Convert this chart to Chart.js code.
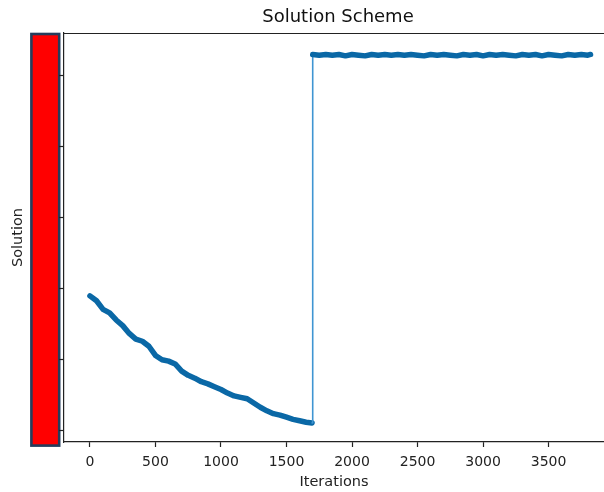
<!DOCTYPE html>
<html>
<head>
<meta charset="utf-8">
<script src="https://cdn.jsdelivr.net/npm/chart.js@4/dist/chart.umd.min.js"></script>
<style>
    body { margin: 0; background: #fff; }
    #wrap { width: 604px; height: 492px; position: relative; }
</style>
</head>
<body>
<div id="wrap"><canvas id="schemeChart"></canvas></div>
<script>
// iterations and solution values
const descIterations = [0, 50, 100, 150, 200, 250, 300, 350, 400, 450, 500, 550, 600, 650, 700, 750, 800, 850,
    900, 950, 1000, 1050, 1100, 1150, 1200, 1250, 1300, 1350, 1400, 1450, 1500, 1550, 1600, 1650, 1695];
const descValues = [1.89, 1.82, 1.70, 1.65, 1.55, 1.47, 1.36, 1.28, 1.25, 1.18, 1.05, 0.99, 0.97, 0.93, 0.83, 0.77, 0.73, 0.68,
    0.65, 0.61, 0.57, 0.52, 0.48, 0.46, 0.44, 0.38, 0.32, 0.27, 0.23, 0.21, 0.18, 0.15, 0.13, 0.11, 0.10];

const flatIterations = [1700, 1750, 1800, 1850, 1900, 1950, 2000, 2050, 2100, 2150, 2200, 2250, 2300, 2350, 2400,
    2450, 2500, 2550, 2600, 2650, 2700, 2750, 2800, 2850, 2900, 2950, 3000, 3050, 3100, 3150, 3200, 3250, 3300,
    3350, 3400, 3450, 3500, 3550, 3600, 3650, 3700, 3750, 3800, 3820];
const flatValues = [5.29, 5.28, 5.29, 5.28, 5.29, 5.27, 5.29, 5.28, 5.27, 5.29, 5.28, 5.29, 5.28, 5.29, 5.28,
    5.29, 5.28, 5.27, 5.29, 5.28, 5.29, 5.28, 5.27, 5.29, 5.28, 5.29, 5.27, 5.29, 5.28, 5.29, 5.28, 5.27, 5.29,
    5.28, 5.29, 5.27, 5.29, 5.28, 5.27, 5.29, 5.28, 5.29, 5.28, 5.29];

const xTickValues = [0, 500, 1000, 1500, 2000, 2500, 3000, 3500];
const yTickValues = [0, 1, 2, 3, 4, 5];

const points = descIterations.map((it, i) => ({ x: it, y: descValues[i] }))
    .concat(flatIterations.map((it, i) => ({ x: it, y: flatValues[i] })));

const lineColor = '#0a68a6';
const jumpColor = '#3f95d2';
const titleText = 'Solution Scheme';

// red side bar, top spine and title, drawn around the chart area
const framePlugin = {
    id: 'frame',
    beforeDraw(chart) {
        const { ctx, chartArea } = chart;
        const left = chartArea.left - 32.6;
        const top = chartArea.top + 1;
        const w = 27.8;
        const h = chartArea.bottom + 3.6 - top;
        ctx.save();
        ctx.fillStyle = '#ff0000';
        ctx.fillRect(left, top, w, h);
        ctx.lineWidth = 2.6;
        ctx.strokeStyle = '#243d5c';
        ctx.strokeRect(left, top, w, h);
        ctx.restore();
    },
    afterDraw(chart) {
        const { ctx, chartArea } = chart;
        ctx.save();
        ctx.strokeStyle = '#222';
        ctx.lineWidth = 1.2;
        ctx.beginPath();
        ctx.moveTo(chartArea.left, chartArea.top + 0.5);
        ctx.lineTo(chartArea.right, chartArea.top + 0.5);
        ctx.stroke();

        ctx.fillStyle = '#111';
        ctx.font = "18px 'DejaVu Sans', sans-serif";
        ctx.textAlign = 'center';
        ctx.textBaseline = 'middle';
        ctx.fillText(titleText, (chartArea.left + chartArea.right) / 2 + 4, chartArea.top - 16);
        ctx.restore();
    }
};

Chart.defaults.font.family = "'DejaVu Sans', sans-serif";
Chart.defaults.color = '#000';

new Chart(document.getElementById('schemeChart'), {
    type: 'line',
    data: {
        datasets: [{
            label: 'Solution',
            data: points,
            borderColor: lineColor,
            borderWidth: 5.5,
            borderCapStyle: 'round',
            borderJoinStyle: 'round',
            pointRadius: 0,
            tension: 0,
            fill: false,
            segment: {
                // the jump between the two regimes is a thin line
                borderWidth: ctx => Math.abs(ctx.p1.parsed.y - ctx.p0.parsed.y) > 2 ? 1.6 : undefined,
                borderColor: ctx => Math.abs(ctx.p1.parsed.y - ctx.p0.parsed.y) > 2 ? jumpColor : undefined
            }
        }]
    },
    options: {
        responsive: true,
        maintainAspectRatio: false,
        animation: false,
        layout: { padding: { top: 33, left: 0, right: 0, bottom: 0 } },
        scales: {
            x: {
                type: 'linear',
                min: -198,
                max: 3923,
                afterBuildTicks: scale => { scale.ticks = xTickValues.map(v => ({ value: v })); },
                afterFit: scale => { scale.height = 50; },
                border: { display: true, color: '#222', width: 1.2 },
                grid: { drawOnChartArea: false, drawTicks: true, tickLength: 5, color: '#222', tickWidth: 1.2 },
                ticks: {
                    padding: 7,
                    maxRotation: 0,
                    autoSkip: false,
                    font: { size: 14 },
                    color: '#222',
                    callback: v => String(v)
                },
                title: {
                    display: true,
                    text: 'Iterations',
                    font: { size: 14.5 },
                    color: '#222',
                    padding: { top: 0, bottom: 1.3 }
                }
            },
            y: {
                type: 'linear',
                min: -0.169,
                max: 5.592,
                afterBuildTicks: scale => { scale.ticks = yTickValues.map(v => ({ value: v })); },
                afterFit: scale => { scale.width = 64; },
                border: { display: true, color: '#222', width: 1.2 },
                grid: { drawOnChartArea: false, drawTicks: true, tickLength: 5, color: '#222', tickWidth: 1.2 },
                ticks: {
                    padding: 0,
                    autoSkip: false,
                    callback: () => ''
                },
                title: {
                    display: true,
                    text: 'Solution',
                    font: { size: 14.5 },
                    color: '#222',
                    padding: { top: 9.3, bottom: 0 }
                }
            }
        },
        plugins: {
            legend: { display: false },
            tooltip: { enabled: false },
            title: { display: false }
        }
    },
    plugins: [framePlugin]
});
</script>
</body>
</html>
